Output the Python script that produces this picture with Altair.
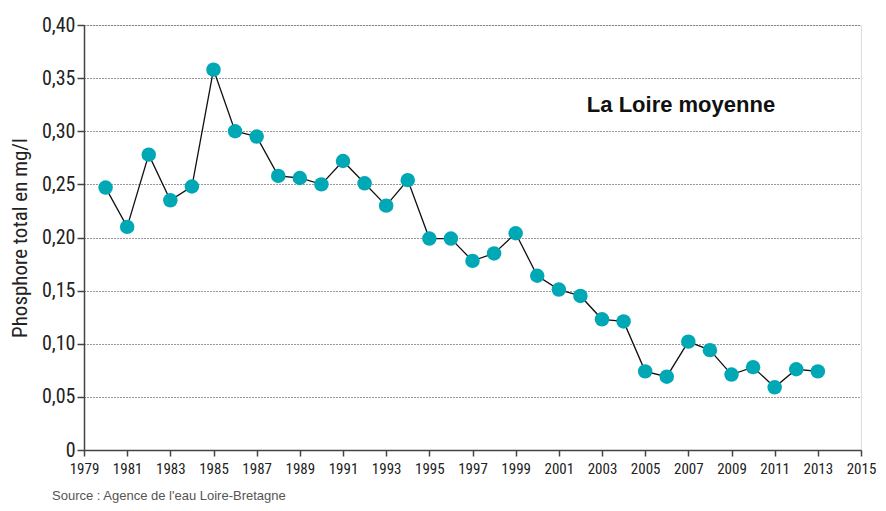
import altair as alt
import pandas as pd

years = list(range(1980, 2014))
phosphore = [0.247, 0.210, 0.278, 0.235, 0.248, 0.358, 0.300, 0.295, 0.258, 0.256,
             0.250, 0.272, 0.251, 0.230, 0.254, 0.199, 0.199, 0.178, 0.185, 0.204,
             0.164, 0.151, 0.145, 0.123, 0.121, 0.074, 0.069, 0.102, 0.094, 0.071,
             0.078, 0.059, 0.076, 0.074]
x_ticks = list(range(1979, 2016, 2))
y_ticks = [0, 0.05, 0.10, 0.15, 0.20, 0.25, 0.30, 0.35, 0.40]
title_text = "La Loire moyenne"
source_text = "Source : Agence de l'eau Loire-Bretagne"
y_title = "Phosphore total en mg/l"

df = pd.DataFrame({"annee": years, "val": phosphore})

FONT = "Liberation Sans Narrow, Roboto Condensed, Liberation Sans, Arial"

x_enc = alt.X("annee:Q",
              scale=alt.Scale(domain=[1979, 2015], nice=False, zero=False),
              axis=alt.Axis(values=x_ticks, format="d", title=None, grid=False,
                            labelFont=FONT, labelFontSize=15, labelColor="#222",
                            tickSize=6, tickColor="#444", tickWidth=1.5,
                            domainColor="#444", domainWidth=1.5, labelPadding=5,
                            labelFlush=False))
y_enc = alt.Y("val:Q",
              scale=alt.Scale(domain=[0, 0.40], nice=False),
              axis=alt.Axis(values=y_ticks, title=y_title,
                            labelExpr="datum.value == 0 ? '0' : replace(format(datum.value, '.2f'), '.', ',')",
                            labelFont=FONT, labelFontSize=20, labelColor="#222",
                            titleFont=FONT, titleFontSize=21, titleFontWeight="normal",
                            titleColor="#222", titlePadding=11,
                            tickSize=7, tickColor="#444", tickWidth=1.5,
                            domainColor="#444", domainWidth=1.5, labelPadding=2,
                            grid=True, gridDash=[1, 2], gridColor="#333", gridWidth=1))

line = alt.Chart(df).mark_line(color="#111", strokeWidth=1.3).encode(x=x_enc, y=y_enc)
pts = alt.Chart(df).mark_circle(color="#00a8b5", opacity=1, size=210).encode(x="annee:Q", y="val:Q")

title = alt.Chart(pd.DataFrame({"t": [title_text]})).mark_text(
    font="Liberation Sans, Arial", fontSize=22, fontWeight="bold", color="#111",
    align="center", baseline="middle").encode(text="t:N", x=alt.value(597), y=alt.value(80))

source = alt.Chart(pd.DataFrame({"t": [source_text]})).mark_text(
    font="Liberation Sans, Arial", fontSize=13, color="#555",
    align="left", baseline="bottom").encode(text="t:N", x=alt.value(-32), y=alt.value(478))

chart = alt.layer(line, pts, title, source).properties(
    width=777, height=425,
    autosize=alt.AutoSizeParams(type="none"),
    padding={"left": 76, "top": 17, "right": 17, "bottom": 53},
).configure_view(stroke=None).configure(background="white")

chart.save("out.html", embed_options={"renderer": "svg", "actions": False})
